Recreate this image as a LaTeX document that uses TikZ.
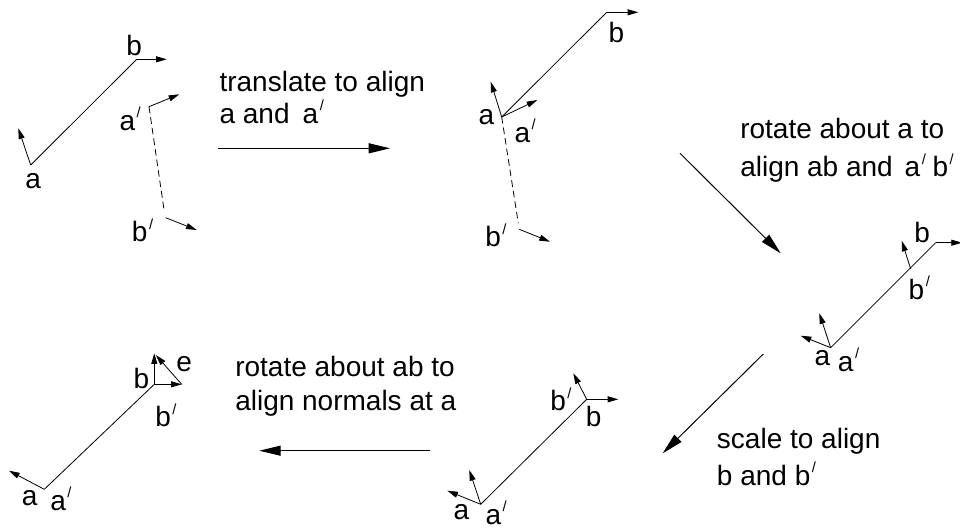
\documentclass[tikz,border=0pt]{standalone}
\usepackage{fontspec}
\setmainfont{Liberation Sans}
\usetikzlibrary{arrows.meta}
\newcommand\pri{\kern1.2pt\raisebox{9.5pt}{\fontsize{11}{11}\selectfont /}}
\begin{document}
\begin{tikzpicture}[x=0.75pt,y=-0.75pt,
  lbl/.style={anchor=base west,inner sep=0pt,font=\fontsize{21}{25}\selectfont},
  vec/.style={-{Triangle[length=8pt,width=4.5pt]},line width=0.6pt},
  seg/.style={line width=0.6pt},
  dseg/.style={line width=0.6pt,dash pattern=on 5pt off 3pt},
  big/.style={-{Triangle[length=16pt,width=7.5pt]},line width=0.75pt}]
\useasboundingbox (0,0) rectangle (960,529);

% ---------- panel 1 ----------
\coordinate (A1) at (30.7,165);
\coordinate (A1n) at (18.3,128.3);
\coordinate (B1) at (136.7,59.3);
\coordinate (B1n) at (166.7,59.3);
\coordinate (P1) at (149,106.7);
\coordinate (P1n) at (179.3,94.3);
\coordinate (Q1) at (164.3,211.7);
\coordinate (Q1s) at (165.7,217.7);
\coordinate (Q1n) at (196.7,230);
\draw[seg] (A1) -- (B1);
\draw[vec] (A1) -- (A1n);
\draw[vec] (B1) -- (B1n);
\draw[dseg] (P1) -- (Q1);
\draw[vec] (P1) -- (P1n);
\draw[vec] (Q1s) -- (Q1n);
\node[lbl] (la1) at (25,188.3) {a};
\node[lbl] (lb1) at (126,55) {b};
\node[lbl] (lp1) at (119.3,130) {a\pri};
\node[lbl] (lq1) at (131.7,241.7) {b\pri};

% ---------- panel 2 ----------
\coordinate (A2) at (501.7,117);
\coordinate (A2n) at (490.7,81.7);
\coordinate (P2n) at (537.3,100);
\coordinate (B2) at (606.7,12.3);
\coordinate (B2n) at (638.3,12.3);
\coordinate (Q2) at (518.3,223.3);
\coordinate (Q2s) at (519.3,229.3);
\coordinate (Q2n) at (550,241.7);
\draw[seg] (A2) -- (B2);
\draw[vec] (A2) -- (A2n);
\draw[vec] (A2) -- (P2n);
\draw[vec] (B2) -- (B2n);
\draw[dseg] (A2) -- (Q2);
\draw[vec] (Q2s) -- (Q2n);
\node[lbl] (la2) at (478.3,124) {a};
\node[lbl] (lb2) at (608.3,42.7) {b};
\node[lbl] (lp2) at (514.3,142.3) {a\pri};
\node[lbl] (lq2) at (485,246.7) {b\pri};

% ---------- panel 3 ----------
\coordinate (A3) at (830.7,347.7);
\coordinate (A3n) at (819.3,313.3);
\coordinate (P3n) at (800.7,335.7);
\coordinate (B3) at (935.7,242.7);
\coordinate (B3n) at (962,242.7);
\coordinate (Q3) at (910.7,269);
\coordinate (Q3n) at (901.7,240.7);
\draw[seg] (A3) -- (B3);
\draw[vec] (A3) -- (A3n);
\draw[vec] (A3) -- (P3n);
\draw[vec] (B3) -- (B3n);
\draw[vec] (Q3) -- (Q3n);
\node[lbl] (la3) at (814.3,365) {a};
\node[lbl] (lp3) at (837.7,371) {a\pri};
\node[lbl] (lb3) at (914,242.7) {b};
\node[lbl] (lq3) at (908.3,299.3) {b\pri};

% ---------- panel 4 ----------
\coordinate (A4) at (480.7,504.3);
\coordinate (A4n) at (469.3,470);
\coordinate (P4n) at (447.3,490.7);
\coordinate (B4) at (586.7,399.3);
\coordinate (B4n) at (618.3,399.3);
\coordinate (Q4n) at (573.3,373.3);
\draw[seg] (A4) -- (B4);
\draw[vec] (A4) -- (A4n);
\draw[vec] (A4) -- (P4n);
\draw[vec] (B4) -- (B4n);
\draw[vec] (B4) -- (Q4n);
\node[lbl] (la4) at (453.3,519) {a};
\node[lbl] (lp4) at (485.3,524.5) {a\pri};
\node[lbl] (lq4) at (550,410.7) {b\pri};
\node[lbl] (lb4) at (585.7,426.7) {b};

% ---------- panel 5 ----------
\coordinate (A5) at (44.3,489.3);
\coordinate (A5n) at (9,470.7);
\coordinate (B5) at (154.3,384.3);
\coordinate (B5u) at (154.3,353.3);
\coordinate (B5r) at (181.7,384.3);
\coordinate (E5) at (155.8,355);
\draw[seg] (A5) -- (B5);
\draw[vec] (A5) -- (A5n);
\draw[vec] (B5) -- (B5u);
\draw[vec] (B5) -- (B5r);
\draw[vec] (B5r) -- (E5);
\node[lbl] (la5) at (21.7,505.7) {a};
\node[lbl] (lp5) at (50,510) {a\pri};
\node[lbl] (lb5) at (133.3,388.3) {b};
\node[lbl] (le5) at (176,371.7) {e};
\node[lbl] (lq5) at (155,426.7) {b\pri};

% ---------- step arrows and captions ----------
\coordinate (S1a) at (218.3,148.3);
\coordinate (S1b) at (390,148.3);
\coordinate (S2a) at (680,153.3);
\coordinate (S2b) at (780.7,253.3);
\coordinate (S3a) at (763.3,354);
\coordinate (S3b) at (662.7,453.3);
\coordinate (S4a) at (430,450.7);
\coordinate (S4b) at (259.3,450.7);
\draw[big] (S1a) -- (S1b);
\draw[big] (S2a) -- (S2b);
\draw[big] (S3a) -- (S3b);
\draw[big] (S4a) -- (S4b);

\node[lbl] (t1a) at (219.3,91.7) {translate to align};
\node[lbl] (t1b) at (219.3,123.3) {a and\hspace{4pt} a\pri};
\node[lbl] (t2a) at (740,138.3) {rotate about a to};
\node[lbl] (t2b) at (740,176.7) {align ab and\hspace{3pt} a\pri\hspace{5pt}b\pri};
\node[lbl] (t3a) at (716.7,448.3) {scale to align};
\node[lbl] (t3b) at (716.7,485) {b and b\pri};
\node[lbl] (t4a) at (235,376) {rotate about ab to};
\node[lbl] (t4b) at (235,410) {align normals at a};
\end{tikzpicture}
\end{document}
